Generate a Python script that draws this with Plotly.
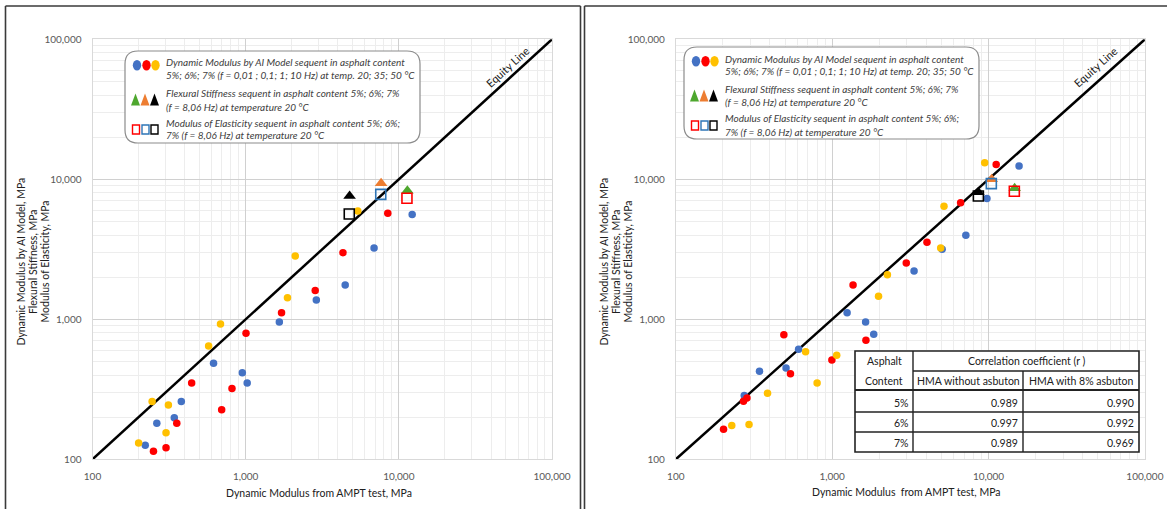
import plotly.graph_objects as go

W, H = 1167, 509

# ---------------- data (left chart) ----------------
L_blue_x = [12220, 6890, 4466, 2893, 1659, 1023, 951, 617, 380, 342, 263, 221]
L_blue_y = [5595, 3234, 1760, 1374, 957, 351, 416, 485, 259, 198, 181, 126]
L_red_x = [8470, 4317, 2845, 1715, 1005, 814, 697, 444, 355, 302, 250]
L_red_y = [5716, 2993, 1603, 1116, 794, 320, 226, 351, 181, 121, 114]
L_yel_x = [5395, 2107, 1875, 685, 573, 313, 245, 302, 200]
L_yel_y = [5940, 2833, 1428, 926, 645, 244, 259, 155, 131]
L_tri_x = [11370, 7660, 4770]          # green, orange, black
L_tri_y = [8300, 9357, 7604]
L_sq_x = [11300, 7620, 4746]           # red, blue, black
L_sq_y = [7315, 7810, 5656]

# ---------------- data (right chart) ----------------
R_blue_x = [15680, 9770, 7160, 5050, 3340, 1246, 1636, 1844, 610, 507, 343, 274]
R_blue_y = [12450, 7278, 3981, 3162, 2215, 1116, 957, 781, 610, 449, 425, 285]
R_red_x = [11190, 6630, 4040, 2978, 1360, 491, 1644, 996, 541, 285, 271, 202]
R_red_y = [12730, 6813, 3548, 2525, 1760, 777, 708, 512, 409, 274, 260, 164]
R_yel_x = [9450, 5190, 4943, 2256, 1979, 676, 1069, 801, 386, 228, 294]
R_yel_y = [13150, 6412, 3234, 2084, 1459, 587, 553, 351, 296, 174, 177]
R_tri_x = [14690, 10480, 8610]
R_tri_y = [8625, 10000, 8075]
R_sq_x = [14620, 10420, 8610]
R_sq_y = [8210, 9310, 7604]

equity = [100, 100000]
tick_vals = [100, 1000, 10000, 100000]
tick_text = ["100", "1,000", "10,000", "100,000"]
minor_vals = [m * d for d in (100, 1000, 10000) for m in range(2, 10)]

table_rows = ["5%", "6%", "7%"]
r_without = ["0.989", "0.997", "0.989"]
r_with = ["0.990", "0.992", "0.969"]

BLUE = "#4472C4"
RED = "#FF0000"
YEL = "#FFC000"
GREEN = "#4EA72E"
ORANGE = "#ED7D31"
BLACK = "#000000"
SQ_BLUE = "#2E75B6"

FONT = "Lato"

def px(x):
    return x / W

def py(y):
    return 1 - y / H

fig = go.Figure()

panels = [
    dict(xa="x", ya="y", blue=(L_blue_x, L_blue_y), red=(L_red_x, L_red_y), yel=(L_yel_x, L_yel_y),
         tri=(L_tri_x, L_tri_y), sq=(L_sq_x, L_sq_y)),
    dict(xa="x2", ya="y2", blue=(R_blue_x, R_blue_y), red=(R_red_x, R_red_y), yel=(R_yel_x, R_yel_y),
         tri=(R_tri_x, R_tri_y), sq=(R_sq_x, R_sq_y)),
]

for p in panels:
    fig.add_trace(go.Scatter(x=equity, y=equity, mode="lines", line=dict(color="black", width=2.5),
                             xaxis=p["xa"], yaxis=p["ya"], showlegend=False, hoverinfo="skip"))
    for key, col in (("blue", BLUE), ("red", RED), ("yel", YEL)):
        xs, ys = p[key]
        fig.add_trace(go.Scatter(x=xs, y=ys, mode="markers",
                                 marker=dict(color=col, size=7.5, line=dict(width=0)),
                                 xaxis=p["xa"], yaxis=p["ya"], showlegend=False))
    xs, ys = p["tri"]
    fig.add_trace(go.Scatter(x=xs, y=ys, mode="markers",
                             marker=dict(symbol="triangle-up", color=[GREEN, ORANGE, BLACK], size=11,
                                         line=dict(width=0)),
                             xaxis=p["xa"], yaxis=p["ya"], showlegend=False))
    xs, ys = p["sq"]
    fig.add_trace(go.Scatter(x=xs, y=ys, mode="markers",
                             marker=dict(symbol="square-open", color=[RED, SQ_BLUE, BLACK], size=10,
                                         line=dict(width=1.6)),
                             xaxis=p["xa"], yaxis=p["ya"], showlegend=False))

axis_common = dict(
    type="log", range=[2, 5], tickvals=tick_vals, ticktext=tick_text,
    showgrid=True, gridcolor="#D0D0D0", gridwidth=1,
    minor=dict(tickvals=minor_vals, showgrid=True, gridcolor="#EDEDED", gridwidth=1),
    zeroline=False, showline=True, linecolor="#D9D9D9", linewidth=1, mirror=True,
    ticks="outside", ticklen=8, tickcolor="rgba(0,0,0,0)",
    tickfont=dict(family=FONT, size=10, color="#595959"),
)

fig.update_layout(
    width=W, height=H,
    margin=dict(l=0, r=0, t=0, b=0, autoexpand=False),
    paper_bgcolor="white", plot_bgcolor="white",
    showlegend=False,
    xaxis=dict(axis_common, domain=[px(92.5), px(552)], anchor="y"),
    yaxis=dict(axis_common, domain=[py(459.3), py(39.3)], anchor="x"),
    xaxis2=dict(axis_common, domain=[px(675.8), px(1144.9)], anchor="y2"),
    yaxis2=dict(axis_common, domain=[py(459.3), py(39.3)], anchor="x2"),
)

shapes = []
annotations = []

def seg(x0, y0, x1, y1, color="#3A3A3A", w=1.6):
    shapes.append(dict(type="line", xref="paper", yref="paper", x0=px(x0), x1=px(x1), y0=py(y0), y1=py(y1),
                       line=dict(color=color, width=w)))

def text(x, y, t, size=10.5, color="#202020", xanchor="center", angle=0):
    annotations.append(dict(xref="paper", yref="paper", x=px(x), y=py(y), text=t, showarrow=False,
                            xanchor=xanchor, yanchor="middle", textangle=angle,
                            font=dict(family=FONT, size=size, color=color)))

# panel borders (kept inside the figure)
seg(5.5, 6, 580.5, 6)
seg(5.5, 6, 5.5, 509)
seg(580.5, 6, 580.5, 509)
seg(584.5, 6, 1167, 6)
seg(584.5, 6, 584.5, 509)

def rounded_rect(x0, y0, x1, y1, r):
    pts = (f"M {px(x0 + r)},{py(y0)} L {px(x1 - r)},{py(y0)} Q {px(x1)},{py(y0)} {px(x1)},{py(y0 + r)} "
           f"L {px(x1)},{py(y1 - r)} Q {px(x1)},{py(y1)} {px(x1 - r)},{py(y1)} "
           f"L {px(x0 + r)},{py(y1)} Q {px(x0)},{py(y1)} {px(x0)},{py(y1 - r)} "
           f"L {px(x0)},{py(y0 + r)} Q {px(x0)},{py(y0)} {px(x0 + r)},{py(y0)} Z")
    return dict(type="path", xref="paper", yref="paper", path=pts,
                line=dict(color="#8C8C8C", width=1.2), fillcolor="white")

legend_lines = [
    "Dynamic Modulus by AI Model sequent in asphalt content",
    "5%; 6%; 7% (f = 0,01 ; 0,1; 1; 10 Hz) at temp. 20; 35; 50 °C",
    "Flexural Stiffness sequent in asphalt content 5%; 6%; 7%",
    "(f = 8,06 Hz) at temperature 20 °C",
    "Modulus of Elasticity sequent in asphalt content 5%; 6%;",
    "7% (f = 8,06 Hz) at temperature 20 °C",
]

def add_legend(ox, oy):
    shapes.append(rounded_rect(ox, oy, ox + 295, oy + 92, 13))
    text_y = [11.5, 24, 42.5, 55.5, 71.5, 84.5]
    for t, ty in zip(legend_lines, text_y):
        text(ox + 39, oy + ty, f"<i>{t}</i>", size=10, color="#404040", xanchor="left")
    for cx, col in ((12, BLUE), (21.5, RED), (30.5, YEL)):
        shapes.append(dict(type="circle", xref="paper", yref="paper",
                           x0=px(ox + cx - 4.2), x1=px(ox + cx + 4.2), y0=py(oy + 19.5), y1=py(oy + 9),
                           fillcolor=col, line=dict(width=0)))
    for cx, col in ((10.5, GREEN), (20, ORANGE), (29.5, BLACK)):
        b = oy + 54.5
        t = oy + 42.5
        shapes.append(dict(type="path", xref="paper", yref="paper",
                           path=f"M {px(ox + cx - 4.5)},{py(b)} L {px(ox + cx + 4.5)},{py(b)} L {px(ox + cx)},{py(t)} Z",
                           fillcolor=col, line=dict(width=0)))
    for cx, col in ((11, RED), (20.5, SQ_BLUE), (29.5, BLACK)):
        shapes.append(dict(type="rect", xref="paper", yref="paper",
                           x0=px(ox + cx - 3.5), x1=px(ox + cx + 3.5), y0=py(oy + 83), y1=py(oy + 74),
                           fillcolor="white", line=dict(color=col, width=1.4)))

add_legend(125, 51)
add_legend(684, 47)

# Equity line labels
text(508, 67, "Equity Line", size=11, angle=-42.4)
text(1096, 67, "Equity Line", size=11, angle=-41.8)

# axis titles
text(319, 493, "Dynamic Modulus from AMPT test, MPa")
text(906, 492, "Dynamic Modulus  from AMPT test, MPa")
ytitle = ["Dynamic Modulus by AI Model, MPa", "Flexural Stiffness, MPa", "Modulus of Elasticity, MPa"]
for base in (0, 583):
    for dx, t in zip((20.5, 33, 44.5), ytitle):
        text(base + dx, 262, t, angle=-90)

# correlation table
tx0, tx1, tx2, tx3 = 855, 913, 1023, 1139
ty = [351, 371, 390, 412, 432, 452]
shapes.append(dict(type="rect", xref="paper", yref="paper", x0=px(tx0), x1=px(tx3), y0=py(ty[5]), y1=py(ty[0]),
                   fillcolor="white", line=dict(color="#222222", width=1.6)))
def hline(xa, xb, yv, w=1.4):
    seg(xa, yv, xb, yv, "#222222", w)
def vline(xv, ya, yb, w=1.4):
    seg(xv, ya, xv, yb, "#222222", w)
hline(tx1, tx3, ty[1])
hline(tx0, tx3, ty[2], 2.2)
hline(tx0, tx3, ty[3])
hline(tx0, tx3, ty[4])
vline(tx1, ty[0], ty[5])
vline(tx2, ty[1], ty[5])

text((tx0 + tx1) / 2, 361, "Asphalt")
text((tx0 + tx1) / 2, 381, "Content")
text((tx1 + tx3) / 2, 361, "Correlation coefficient (r )")
text((tx1 + tx2) / 2, 381, "HMA without asbuton")
text((tx2 + tx3) / 2, 381, "HMA with 8% asbuton")
for i, (a, b, c) in enumerate(zip(table_rows, r_without, r_with)):
    yy = 403 + 20 * i
    text(tx1 - 2, yy, a, xanchor="right")
    text(tx2 - 3, yy, b, xanchor="right")
    text(tx3 - 3, yy, c, xanchor="right")

fig.update_layout(shapes=shapes, annotations=annotations)
fig.write_html("out.html")
